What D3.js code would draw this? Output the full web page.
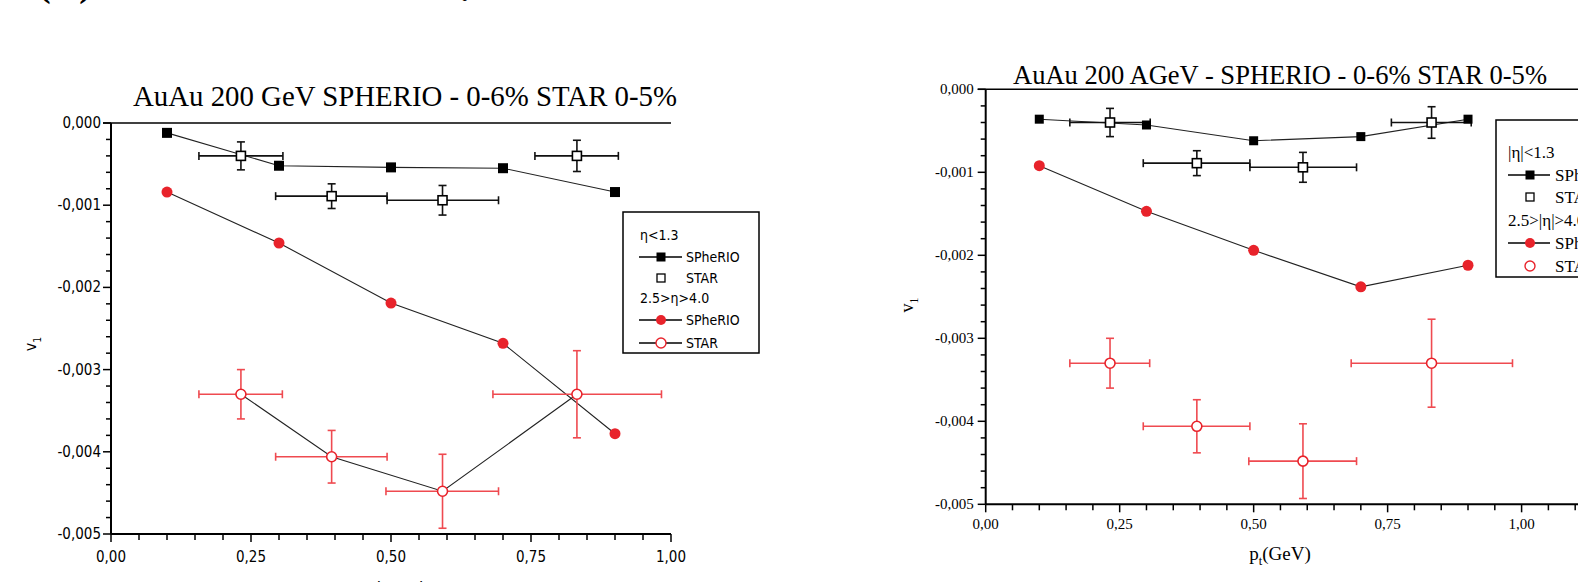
<!DOCTYPE html>
<html>
<head>
<meta charset="utf-8">
<script src="https://cdn.jsdelivr.net/npm/d3@7/dist/d3.min.js"></script>
<style>
  html, body { margin: 0; padding: 0; background: #fff; overflow: hidden; }
  svg { display: block; }
</style>
</head>
<body>
<div id="chart"></div>
<script>
// transverse momentum bins
const ptModel = [0.1, 0.3, 0.5, 0.7, 0.9];
const ptStar = [0.232, 0.394, 0.592, 0.832];
const ptStarMidLo = [0.157, 0.294, 0.493, 0.757];
const ptStarMidHi = [0.307, 0.493, 0.692, 0.906];
const ptStarFwdLo = [0.157, 0.294, 0.491, 0.682];
const ptStarFwdHi = [0.306, 0.493, 0.692, 0.983];

// STAR data (same in both panels)
const starMid = [-0.00040, -0.00089, -0.00094, -0.00040];
const starMidErr = [0.00017, 0.00015, 0.00018, 0.00019];
const starFwd = [-0.00330, -0.00406, -0.00448, -0.00330];
const starFwdErr = [0.00030, 0.00032, 0.00045, 0.00053];

// SPheRIO, left panel
const leftSphMid = [-0.00012, -0.00052, -0.00054, -0.00055, -0.00084];
const leftSphFwd = [-0.00084, -0.00146, -0.00219, -0.00268, -0.00378];
// SPheRIO, right panel
const rightSphMid = [-0.00036, -0.00043, -0.00062, -0.00057, -0.00036];
const rightSphFwd = [-0.00092, -0.00147, -0.00194, -0.00238, -0.00212];

const yTickValues = [0, -0.001, -0.002, -0.003, -0.004, -0.005];
const xTickValues = [0, 0.25, 0.5, 0.75, 1.0];

const RED = "#e8232b";
const RED_ERR = "#ef4a50";

const width = 1578, height = 582;
const svg = d3.select("#chart").append("svg")
  .attr("width", width).attr("height", height);

// cropped slide heading at the very top
const SERIF = "'Liberation Serif', 'DejaVu Serif', serif";
const SANS = "'DejaVu Sans Condensed', 'Liberation Sans Narrow', 'DejaVu Sans', sans-serif";
svg.append("text").attr("x", 38).attr("y", -4)
  .attr("font-family", SERIF).attr("font-weight", "bold").attr("font-size", 38)
  .text("(1  )");
svg.append("text").attr("x", 460).attr("y", 1)
  .attr("font-family", SERIF).attr("font-weight", "bold").attr("font-size", 38)
  .text(".");

function fmt(v, d) {
  if (Math.abs(v) < 1e-12) v = 0;
  return v.toFixed(d).replace(".", ",");
}

function drawPanel(cfg) {
  const x = d3.scaleLinear().domain(cfg.xDomain).range(cfg.xRange);
  const y = d3.scaleLinear().domain([0, -0.005]).range(cfg.yRange);
  const g = svg.append("g");
  const x0 = cfg.xRange[0];
  const yb = cfg.yRange[1];

  // title
  g.append("text")
    .attr("x", cfg.titleX).attr("y", cfg.titleY)
    .attr("text-anchor", "middle")
    .attr("font-family", SERIF).attr("font-size", cfg.titleSize)
    .attr("textLength", cfg.titleLen).attr("lengthAdjust", "spacingAndGlyphs")
    .text(cfg.title);

  // y axis ticks
  const yMinor = d3.range(0, -0.00501, -0.0002);
  g.selectAll(".ytick").data(yMinor).join("line")
    .attr("x1", d => x0 - (Math.abs(Math.round(d * 1000) - d * 1000) < 1e-6 ? 8 : 5))
    .attr("x2", x0)
    .attr("y1", d => y(d)).attr("y2", d => y(d))
    .attr("stroke", "#000").attr("stroke-width", 1.5);
  g.selectAll(".ylab").data(yTickValues).join("text")
    .attr("x", x0 - cfg.yLabelGap).attr("y", d => y(d) + 5)
    .attr("text-anchor", "end")
    .attr("font-family", cfg.tickFont).attr("font-size", cfg.tickSize)
    .attr("font-weight", cfg.tickWeight)
    .text(d => fmt(d, 3));

  // x axis ticks
  const xMinor = d3.range(0, cfg.xDomain[1] + 0.001, 0.05);
  g.selectAll(".xtick").data(xMinor).join("line")
    .attr("x1", d => x(d)).attr("x2", d => x(d))
    .attr("y1", yb)
    .attr("y2", (d, i) => yb + (i % 5 === 0 ? 8 : 6))
    .attr("stroke", "#000").attr("stroke-width", 1.5);
  g.selectAll(".xlab").data(xTickValues).join("text")
    .attr("x", d => x(d)).attr("y", yb + cfg.xLabelGap)
    .attr("text-anchor", "middle")
    .attr("font-family", cfg.tickFont).attr("font-size", cfg.tickSize)
    .attr("font-weight", cfg.tickWeight)
    .text(d => fmt(d, 2));

  // frame: left axis, bottom axis, top line
  g.append("line").attr("x1", x0).attr("x2", x0)
    .attr("y1", cfg.yRange[0]).attr("y2", yb)
    .attr("stroke", "#000").attr("stroke-width", 2);
  g.append("line").attr("x1", x0).attr("x2", cfg.xRange[1])
    .attr("y1", yb).attr("y2", yb)
    .attr("stroke", "#000").attr("stroke-width", 2);
  g.append("line").attr("x1", x0 - 8).attr("x2", cfg.xRange[1])
    .attr("y1", y(0)).attr("y2", y(0))
    .attr("stroke", "#000").attr("stroke-width", 1.5);

  // axis titles
  const vl = g.append("text")
    .attr("transform", `translate(${cfg.vX},${cfg.vY}) rotate(-90)`)
    .attr("text-anchor", "middle")
    .attr("font-family", cfg.labelFont).attr("font-size", cfg.vSize);
  vl.append("tspan").text("v");
  vl.append("tspan").attr("dy", 5).attr("font-size", cfg.vSize * 0.65).text("1");

  const pl = g.append("text")
    .attr("x", cfg.pX).attr("y", cfg.pY)
    .attr("text-anchor", "middle")
    .attr("font-family", cfg.labelFont).attr("font-size", cfg.pSize);
  pl.append("tspan").text("p");
  pl.append("tspan").attr("dy", 5).attr("font-size", cfg.pSize * 0.65).text("t");
  pl.append("tspan").attr("dy", -5).text("(GeV)");

  const line = d3.line().x(d => x(d[0])).y(d => y(d[1]));

  // model curves
  const mid = ptModel.map((p, i) => [p, cfg.sphMid[i]]);
  const fwd = ptModel.map((p, i) => [p, cfg.sphFwd[i]]);
  g.append("path").attr("d", line(mid)).attr("fill", "none")
    .attr("stroke", "#222").attr("stroke-width", 1.1);
  g.append("path").attr("d", line(fwd)).attr("fill", "none")
    .attr("stroke", "#222").attr("stroke-width", 1.1);

  const starF = ptStar.map((p, i) => [p, starFwd[i]]);
  if (cfg.connectStarFwd) {
    g.append("path").attr("d", line(starF)).attr("fill", "none")
      .attr("stroke", "#222").attr("stroke-width", 1.1);
  }

  // error bars
  function errBars(vals, errs, lo, hi, color) {
    const eg = g.append("g").attr("stroke", color).attr("stroke-width", 1.6);
    vals.forEach((v, i) => {
      const cx = x(ptStar[i]), cy = y(v);
      const xl = x(lo[i]), xh = x(hi[i]);
      const yt = y(v + errs[i]), ybt = y(v - errs[i]);
      eg.append("line").attr("x1", xl).attr("x2", xh).attr("y1", cy).attr("y2", cy);
      eg.append("line").attr("x1", xl).attr("x2", xl).attr("y1", cy - 4).attr("y2", cy + 4);
      eg.append("line").attr("x1", xh).attr("x2", xh).attr("y1", cy - 4).attr("y2", cy + 4);
      eg.append("line").attr("x1", cx).attr("x2", cx).attr("y1", yt).attr("y2", ybt);
      eg.append("line").attr("x1", cx - 4).attr("x2", cx + 4).attr("y1", yt).attr("y2", yt);
      eg.append("line").attr("x1", cx - 4).attr("x2", cx + 4).attr("y1", ybt).attr("y2", ybt);
    });
  }
  errBars(starMid, starMidErr, ptStarMidLo, ptStarMidHi, "#111");
  errBars(starFwd, starFwdErr, ptStarFwdLo, ptStarFwdHi, RED_ERR);

  // markers
  const sq = cfg.sq;
  g.selectAll(".sphMid").data(mid).join("rect")
    .attr("x", d => x(d[0]) - sq / 2).attr("y", d => y(d[1]) - sq / 2)
    .attr("width", sq).attr("height", sq).attr("fill", "#000");
  g.selectAll(".sphFwd").data(fwd).join("circle")
    .attr("cx", d => x(d[0])).attr("cy", d => y(d[1])).attr("r", cfg.dot)
    .attr("fill", RED);
  const starM = ptStar.map((p, i) => [p, starMid[i]]);
  g.selectAll(".starMid").data(starM).join("rect")
    .attr("x", d => x(d[0]) - 4.5).attr("y", d => y(d[1]) - 4.5)
    .attr("width", 9).attr("height", 9)
    .attr("fill", "#fff").attr("stroke", "#000").attr("stroke-width", 1.6);
  g.selectAll(".starFwd").data(starF).join("circle")
    .attr("cx", d => x(d[0])).attr("cy", d => y(d[1])).attr("r", 5)
    .attr("fill", "#fff").attr("stroke", RED).attr("stroke-width", 1.6);

  // legend
  const L = cfg.legend;
  g.append("rect").attr("x", L.x).attr("y", L.y).attr("width", L.w).attr("height", L.h)
    .attr("fill", "#fff").attr("stroke", "#000").attr("stroke-width", 1.5);
  const lt = (txt, ty, tx) => g.append("text").attr("x", tx).attr("y", ty + L.fs * 0.35)
    .attr("font-family", L.font).attr("font-size", L.fs).attr("font-weight", L.weight)
    .text(txt);
  lt(L.head1, L.rows[0], L.headX);
  lt(L.head2, L.rows[3], L.headX);
  // SPheRIO mid
  g.append("line").attr("x1", L.lx0).attr("x2", L.lx1).attr("y1", L.rows[1]).attr("y2", L.rows[1])
    .attr("stroke", "#000").attr("stroke-width", 1.3);
  g.append("rect").attr("x", L.sx - 4.5).attr("y", L.rows[1] - 4.5).attr("width", 9).attr("height", 9)
    .attr("fill", "#000");
  lt("SPheRIO", L.rows[1], L.tx);
  // STAR mid
  g.append("rect").attr("x", L.sx - 4).attr("y", L.rows[2] - 4).attr("width", 8).attr("height", 8)
    .attr("fill", "#fff").attr("stroke", "#000").attr("stroke-width", 1.3);
  lt("STAR", L.rows[2], L.tx);
  // SPheRIO fwd
  g.append("line").attr("x1", L.lx0).attr("x2", L.lx1).attr("y1", L.rows[4]).attr("y2", L.rows[4])
    .attr("stroke", "#000").attr("stroke-width", 1.3);
  g.append("circle").attr("cx", L.sx).attr("cy", L.rows[4]).attr("r", 5).attr("fill", RED);
  lt("SPheRIO", L.rows[4], L.tx);
  // STAR fwd
  if (L.starLine) {
    g.append("line").attr("x1", L.lx0).attr("x2", L.lx1).attr("y1", L.rows[5]).attr("y2", L.rows[5])
      .attr("stroke", "#000").attr("stroke-width", 1.3);
  }
  g.append("circle").attr("cx", L.sx).attr("cy", L.rows[5]).attr("r", 5)
    .attr("fill", "#fff").attr("stroke", RED).attr("stroke-width", 1.4);
  lt("STAR", L.rows[5], L.tx);
}

drawPanel({
  title: "AuAu 200 GeV SPHERIO - 0-6% STAR 0-5%",
  titleX: 405, titleY: 106, titleSize: 30, titleLen: 544,
  xDomain: [0, 1], xRange: [111, 671], yRange: [123, 534],
  tickFont: SANS, tickSize: 15, tickWeight: "normal", yLabelGap: 10, xLabelGap: 28,
  labelFont: SANS, vX: 36, vY: 344, vSize: 16, pX: 392, pY: 596, pSize: 20,
  sphMid: leftSphMid, sphFwd: leftSphFwd, connectStarFwd: true,
  sq: 10, dot: 5.5,
  legend: {
    x: 623, y: 212, w: 136, h: 141, font: SANS, fs: 14, weight: "normal",
    rows: [235, 257, 278, 298, 320, 343], headX: 640, lx0: 639, lx1: 682, sx: 661, tx: 686,
    head1: "η<1.3", head2: "2.5>η>4.0", starLine: true
  }
});

drawPanel({
  title: "AuAu 200 AGeV - SPHERIO - 0-6% STAR 0-5%",
  titleX: 1280, titleY: 84, titleSize: 28, titleLen: 534,
  xDomain: [0, 1.2], xRange: [985.7, 985.7 + 1.2 * 535.9], yRange: [89.3, 504.3],
  tickFont: SERIF, tickSize: 15, tickWeight: "normal", yLabelGap: 12, xLabelGap: 25,
  labelFont: SERIF, vX: 913, vY: 305, vSize: 18, pX: 1280, pY: 560, pSize: 19,
  sphMid: rightSphMid, sphFwd: rightSphFwd, connectStarFwd: false,
  sq: 9, dot: 5.5,
  legend: {
    x: 1496, y: 120, w: 120, h: 157, font: SERIF, fs: 17, weight: "normal",
    rows: [152, 175, 197, 220, 243, 266], headX: 1508, lx0: 1508, lx1: 1550, sx: 1530, tx: 1555,
    head1: "|η|<1.3", head2: "2.5>|η|>4.0", starLine: false
  }
});
</script>
</body>
</html>
